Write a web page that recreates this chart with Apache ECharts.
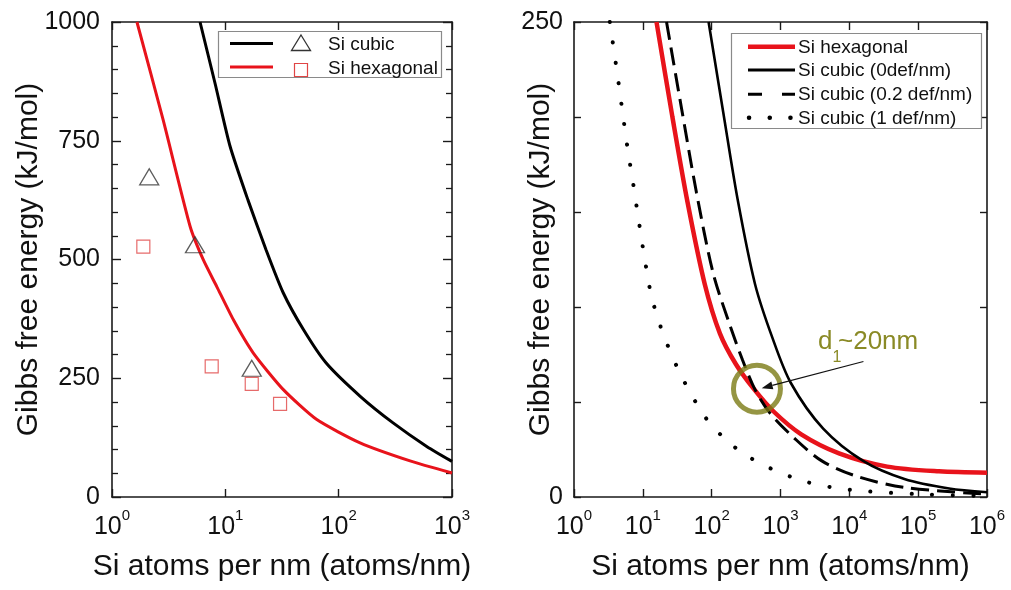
<!DOCTYPE html>
<html>
<head>
<meta charset="utf-8">
<script src="https://cdn.jsdelivr.net/npm/echarts@6/dist/echarts.min.js"></script>
<style>
  html, body { margin: 0; padding: 0; background: #fff; }
  #chart { width: 1011px; height: 590px; }
</style>
</head>
<body>
<div id="chart"></div>
<script>
// ---- Left panel: Gibbs free energy vs. Si atoms per nm (0 - 1000 kJ/mol) ----
const leftCubicN = [5.98, 8.13, 10.96, 15.85, 22.9, 32.4, 49.0, 77.6, 154.9, 302, 602.6, 1000];
const leftCubicG = [1000, 870, 740, 625, 520, 430, 352, 282, 212, 156, 106, 75];
const leftHexN = [1.66, 2.82, 4.90, 6.40, 8.40, 11.78, 17.66, 32.5, 64.1, 154.5, 426.6, 1000];
const leftHexG = [1000, 795, 569, 499, 443, 373, 303, 226, 163, 114, 76, 50.5];
const cubicPtsN = [2.13, 5.4, 17.1];
const cubicPtsG = [674, 531, 271];
const hexPtsN = [1.89, 7.58, 17.1, 30.4];
const hexPtsG = [527, 275, 238, 196];

// ---- Right panel: 0 - 250 kJ/mol, with defect densities ----
const rHexN = [15.8, 26.9, 44.7, 79.4, 132, 224, 407, 794, 2000, 7080, 35480, 200000, 1000000];
const rHexG = [250, 200, 155, 112, 86, 70, 57, 45, 33, 23, 16, 13.5, 12.8];
const rCub0N = [90.2, 148, 240, 427, 759, 1413, 4169, 15850, 63100, 281800, 1000000];
const rCub0G = [250, 202, 156, 112, 84, 60, 36, 19, 9.5, 4.5, 2.5];
const rCub02N = [22.1, 36.3, 60.3, 104.7, 177.8, 281.8, 426.6, 707.9, 1585, 3981, 12590, 63100, 1000000];
const rCub02G = [250, 205, 160, 118, 92, 72, 56.5, 44, 31, 19, 11, 5, 1.5];
const rCub1N = [3.31, 4.17, 5.01, 6.03, 7.24, 8.51, 10.47, 13.49, 20.42, 37.58, 82.22, 162.2, 316.2, 691.8, 2344, 10000, 100000, 1000000];
const rCub1G = [250, 225, 204, 183, 165, 148, 127, 105, 84.5, 62.6, 41.6, 30, 22, 15.3, 8, 3.8, 1.5, 0.5];

// crossover marker (d1 ~ 20 nm) and its pointer
const crossN = [455];
const crossG = [57];
const pointerFrom = [16030, 71.3];
const pointerTo = [533, 57.3];

const leftYTicks = [0, 250, 500, 750, 1000];
const rightYTicks = [0, 250];

const FONT = "'Liberation Sans', Arial, Helvetica, sans-serif";
const RED = '#e8131b';
const INK = '#111';
const OLIVE = '#7a7a14';
const OLIVE_TEXT = '#8a8a26';

const zip = (a, b) => a.map((v, i) => [v, b[i]]);

const chart = echarts.init(document.getElementById('chart'), null, { renderer: 'canvas' });

const axisLine = { show: true, onZero: false, lineStyle: { color: '#1a1a1a', width: 1.6 } };
const expLabel = {
  margin: 11,
  color: INK,
  formatter: v => '{b|10}{s|' + Math.round(Math.log10(v)) + '}',
  rich: {
    b: { fontSize: 25, lineHeight: 39, fontFamily: FONT, color: INK },
    s: { fontSize: 15, lineHeight: 15, verticalAlign: 'top', fontFamily: FONT, color: INK }
  }
};
const nameStyle = { fontSize: 30, fontFamily: FONT, color: INK };

function logX(grid, max, pos) {
  const bottom = pos === 'bottom';
  return {
    type: 'log', logBase: 10, gridIndex: grid, min: 1, max: max, position: pos,
    axisLine: axisLine,
    axisTick: { show: true, inside: true, length: 8, lineStyle: { color: '#1a1a1a', width: 1.4 } },
    axisLabel: bottom ? expLabel : { show: false },
    splitLine: { show: false },
    name: bottom ? 'Si atoms per nm (atoms/nm)' : '',
    nameLocation: 'middle', nameGap: 55, nameMoveOverlap: false, nameTextStyle: nameStyle
  };
}

function valueY(grid, max, interval, pos, withLabels) {
  const ticks = grid === 0 ? leftYTicks : rightYTicks;
  const axis = {
    type: 'value', gridIndex: grid, min: 0, max: max, interval: interval, position: pos,
    axisLine: axisLine,
    axisTick: { inside: true, length: grid === 0 ? 9 : 7, lineStyle: { color: '#1a1a1a', width: 1.4 } },
    axisLabel: withLabels
      ? { margin: grid === 0 ? 12 : 11, fontSize: 25, color: INK, fontFamily: FONT,
          formatter: v => ticks.includes(v) ? String(v) : '' }
      : { show: false },
    splitLine: { show: false }
  };
  if (grid === 0) {
    axis.minorTick = { show: true, splitNumber: 5, length: 6, lineStyle: { color: '#1a1a1a', width: 1.3 } };
  }
  if (withLabels) {
    axis.name = 'Gibbs free energy (kJ/mol)';
    axis.nameLocation = 'middle';
    axis.nameGap = grid === 0 ? 68 : 18;
    axis.nameMoveOverlap = false;
    axis.nameTextStyle = nameStyle;
  }
  return axis;
}

const legendText = (x, y, text) => ({
  type: 'text', z: 11,
  style: { x: x, y: y, text: text, font: '19px ' + FONT, fill: INK,
    align: 'left', verticalAlign: 'middle', textAlign: 'left', textVerticalAlign: 'middle' }
});

const option = {
  animation: false,
  backgroundColor: '#fff',
  textStyle: { fontFamily: FONT },
  grid: [
    { left: 112, top: 22, width: 340, height: 475 },
    { left: 574, top: 22, width: 413, height: 475 }
  ],
  xAxis: [
    logX(0, 1000, 'bottom'),
    logX(0, 1000, 'top'),
    logX(1, 1000000, 'bottom'),
    logX(1, 1000000, 'top')
  ],
  yAxis: [
    valueY(0, 1000, 250, 'left', true),
    valueY(0, 1000, 250, 'right', false),
    valueY(1, 250, 50, 'left', true),
    valueY(1, 250, 50, 'right', false)
  ],
  series: [
    // left panel curves
    { name: 'Si cubic', type: 'line', xAxisIndex: 0, yAxisIndex: 0, data: zip(leftCubicN, leftCubicG),
      symbol: 'none', smooth: 0.2, lineStyle: { color: '#000', width: 3 } },
    { name: 'Si hexagonal', type: 'line', xAxisIndex: 0, yAxisIndex: 0, data: zip(leftHexN, leftHexG),
      symbol: 'none', smooth: 0.2, lineStyle: { color: RED, width: 3 } },
    // left panel markers
    { name: 'Si cubic pts', type: 'scatter', xAxisIndex: 0, yAxisIndex: 0, data: zip(cubicPtsN, cubicPtsG),
      symbol: 'triangle', symbolSize: [19, 16],
      itemStyle: { color: 'rgba(0,0,0,0)', borderColor: '#333', borderWidth: 1.3 }, z: 5 },
    { name: 'Si hexagonal pts', type: 'scatter', xAxisIndex: 0, yAxisIndex: 0, data: zip(hexPtsN, hexPtsG),
      symbol: 'rect', symbolSize: 13,
      itemStyle: { color: 'rgba(0,0,0,0)', borderColor: '#e04545', borderWidth: 1.2 }, z: 5 },
    // right panel curves
    { name: 'Si hexagonal', type: 'line', xAxisIndex: 2, yAxisIndex: 2, data: zip(rHexN, rHexG),
      symbol: 'none', smooth: 0.3, lineStyle: { color: RED, width: 4.5 } },
    { name: 'Si cubic (0def/nm)', type: 'line', xAxisIndex: 2, yAxisIndex: 2, data: zip(rCub0N, rCub0G),
      symbol: 'none', smooth: 0.3, lineStyle: { color: '#000', width: 2.6 } },
    { name: 'Si cubic (0.2 def/nm)', type: 'line', xAxisIndex: 2, yAxisIndex: 2, data: zip(rCub02N, rCub02G),
      symbol: 'none', smooth: 0.3, lineStyle: { color: '#000', width: 3, type: [18, 8] } },
    { name: 'Si cubic (1 def/nm)', type: 'line', xAxisIndex: 2, yAxisIndex: 2, data: zip(rCub1N, rCub1G),
      symbol: 'none', smooth: 0.3,
      lineStyle: { color: '#000', width: 4, type: [0.1, 20.5], cap: 'round' } },
    // crossover ring
    { name: 'crossover', type: 'scatter', xAxisIndex: 2, yAxisIndex: 2, data: zip(crossN, crossG),
      symbol: 'circle', symbolSize: 47, z: 6, silent: true,
      itemStyle: { color: 'rgba(0,0,0,0)', borderColor: OLIVE, borderWidth: 5 } }
  ],
  graphic: [
    // left legend
    { type: 'rect', z: 10, shape: { x: 218.5, y: 31.5, width: 223, height: 46 },
      style: { fill: '#fff', stroke: '#8a8a8a', lineWidth: 1.2 } },
    { type: 'line', z: 11, shape: { x1: 230, y1: 43.5, x2: 273, y2: 43.5 }, style: { stroke: '#000', lineWidth: 3 } },
    { type: 'polygon', z: 11, shape: { points: [[301, 35], [310.5, 50.5], [291.5, 50.5]] },
      style: { fill: 'none', stroke: '#333', lineWidth: 1.3 } },
    legendText(328, 45, 'Si cubic'),
    { type: 'line', z: 11, shape: { x1: 230, y1: 67, x2: 273, y2: 67 }, style: { stroke: RED, lineWidth: 3 } },
    { type: 'rect', z: 11, shape: { x: 294.5, y: 63.5, width: 13, height: 13 },
      style: { fill: 'none', stroke: '#e04545', lineWidth: 1.2 } },
    legendText(328, 69, 'Si hexagonal'),

    // right legend
    { type: 'rect', z: 10, shape: { x: 731.5, y: 33.5, width: 250, height: 95 },
      style: { fill: '#fff', stroke: '#8a8a8a', lineWidth: 1.2 } },
    { type: 'line', z: 11, shape: { x1: 748, y1: 46.7, x2: 795, y2: 46.7 }, style: { stroke: RED, lineWidth: 4.5 } },
    { type: 'line', z: 11, shape: { x1: 748, y1: 70, x2: 795, y2: 70 }, style: { stroke: '#000', lineWidth: 3 } },
    { type: 'line', z: 11, shape: { x1: 748, y1: 94.3, x2: 795, y2: 94.3 },
      style: { stroke: '#000', lineWidth: 3, lineDash: [14, 20] } },
    { type: 'line', z: 11, shape: { x1: 749, y1: 117.7, x2: 792, y2: 117.7 },
      style: { stroke: '#000', lineWidth: 4.5, lineDash: [0.1, 20.6], lineCap: 'round' } },
    legendText(798, 47.5, 'Si hexagonal'),
    legendText(798, 71, 'Si cubic (0def/nm)'),
    legendText(798, 95, 'Si cubic (0.2 def/nm)'),
    legendText(798, 118.5, 'Si cubic (1 def/nm)'),

    // crossover annotation text: d1 ~ 20nm
    { type: 'text', z: 11, style: { x: 818, y: 342, text: 'd', font: '26px ' + FONT, fill: OLIVE_TEXT,
      align: 'left', verticalAlign: 'middle', textAlign: 'left', textVerticalAlign: 'middle' } },
    { type: 'text', z: 11, style: { x: 832.5, y: 358, text: '1', font: '16px ' + FONT, fill: OLIVE_TEXT,
      align: 'left', verticalAlign: 'middle', textAlign: 'left', textVerticalAlign: 'middle' } },
    { type: 'text', z: 11, style: { x: 838, y: 342, text: '~20nm', font: '26px ' + FONT, fill: OLIVE_TEXT,
      align: 'left', verticalAlign: 'middle', textAlign: 'left', textVerticalAlign: 'middle' } }
  ]
};

chart.setOption(option);

// Pointer arrow from the label to the crossover ring, placed in data coordinates
const toPx = c => chart.convertToPixel({ xAxisIndex: 2, yAxisIndex: 2 }, c);
const p0 = toPx(pointerFrom);
const p1 = toPx(pointerTo);
const ang = Math.atan2(p1[1] - p0[1], p1[0] - p0[0]);
const headLen = 11, headHalf = 4;
const back = [p1[0] - headLen * Math.cos(ang), p1[1] - headLen * Math.sin(ang)];
const nx = -Math.sin(ang), ny = Math.cos(ang);
chart.setOption({
  graphic: [
    { id: 'pointer-line', type: 'line', z: 12, silent: true,
      shape: { x1: p0[0], y1: p0[1], x2: back[0], y2: back[1] },
      style: { stroke: '#111', lineWidth: 1.2 } },
    { id: 'pointer-head', type: 'polygon', z: 12, silent: true,
      shape: { points: [p1, [back[0] + nx * headHalf, back[1] + ny * headHalf], [back[0] - nx * headHalf, back[1] - ny * headHalf]] },
      style: { fill: '#111' } }
  ]
});
</script>
</body>
</html>
